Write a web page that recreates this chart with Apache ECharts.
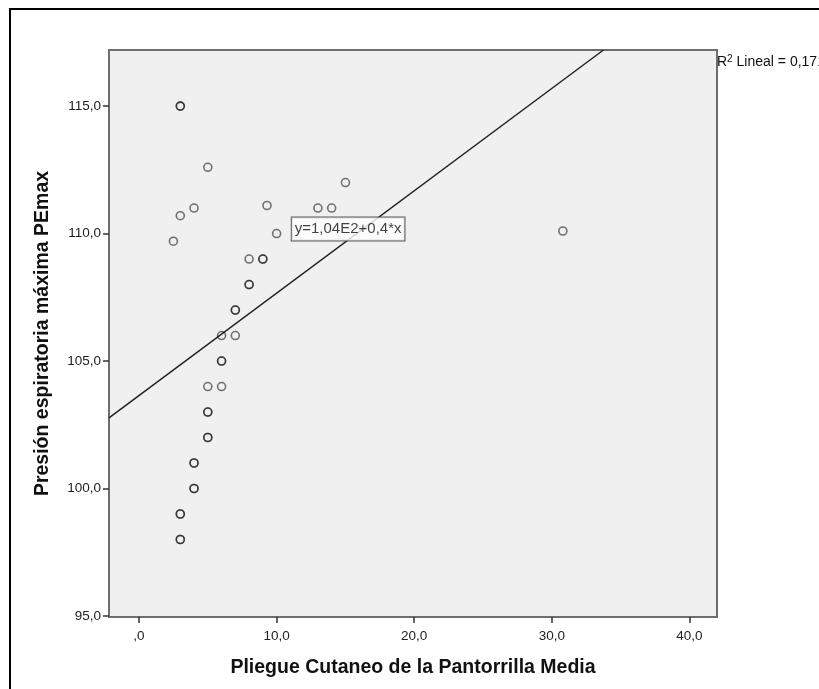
<!DOCTYPE html>
<html>
<head>
<meta charset="utf-8">
<script src="https://cdn.jsdelivr.net/npm/echarts@6/dist/echarts.min.js"></script>
<style>
html,body{margin:0;padding:0;background:#fff;}
#chart{width:819px;height:689px;}
</style>
</head>
<body>
<div id="chart"></div>
<script>
// Data
const xValues = [3, 3, 2.5, 3, 4, 5, 9.3, 10, 13, 14, 15, 8, 9, 9, 8, 8, 7, 7, 6, 7, 6, 6, 5, 6, 5, 5, 5, 5, 4, 4, 4, 4, 3, 3, 3, 3, 30.8];
const yValues = [115, 115, 109.7, 110.7, 111, 112.6, 111.1, 110, 111, 111, 112, 109, 109, 109, 108, 108, 107, 107, 106, 106, 105, 105, 104, 104, 103, 103, 102, 102, 101, 101, 100, 100, 99, 99, 98, 98, 110.1];
const fitLine = [[-2.18, 102.77], [33.75, 117.2]];
const equationText = 'y=1,04E2+0,4*x';
const equationAt = [11.1, 110.18];
const r2Text = 'Lineal = 0,171';
const xTickValues = [0, 10, 20, 30, 40];
const xTickLabels = [',0', '10,0', '20,0', '30,0', '40,0'];
const yTickValues = [95, 100, 105, 110, 115];
const yTickLabels = ['95,0', '100,0', '105,0', '110,0', '115,0'];
const xTitle = 'Pliegue Cutaneo de la Pantorrilla Media';
const yTitle = 'Presión espiratoria máxima PEmax';

const points = xValues.map((x, i) => [x, yValues[i]]);
const font = 'Liberation Sans, Arial, sans-serif';

const chart = echarts.init(document.getElementById('chart'), null, {renderer: 'canvas'});
chart.setOption({
  animation: false,
  backgroundColor: '#fff',
  grid: {
    left: 109, top: 50, right: 102, bottom: 72,
    show: true, backgroundColor: '#f0f0f0', borderColor: '#6e6e6e', borderWidth: 2
  },
  xAxis: {
    type: 'value', min: -2.18, max: 42.0,
    splitLine: {show: false},
    axisLine: {show: true, onZero: false, lineStyle: {color: '#6e6e6e', width: 2}},
    axisTick: {show: true, length: 6, lineStyle: {color: '#333', width: 1.5}, customValues: xTickValues},
    axisLabel: {
      customValues: xTickValues, color: '#222', fontFamily: font, fontSize: 13.5, margin: 12,
      formatter: v => xTickLabels[xTickValues.indexOf(v)]
    },
    name: xTitle, nameLocation: 'middle', nameGap: 41,
    nameTextStyle: {fontFamily: font, fontSize: 19.5, fontWeight: 'bold', color: '#111'}
  },
  yAxis: {
    type: 'value', min: 94.96, max: 117.2,
    splitLine: {show: false},
    axisLine: {show: true, onZero: false, lineStyle: {color: '#6e6e6e', width: 2}},
    axisTick: {show: true, length: 6, lineStyle: {color: '#333', width: 1.5}, customValues: yTickValues},
    axisLabel: {
      customValues: yTickValues, color: '#222', fontFamily: font, fontSize: 13.5, margin: 8,
      formatter: v => yTickLabels[yTickValues.indexOf(v)]
    },
    name: yTitle, nameLocation: 'middle', nameGap: 56, nameRotate: 90,
    nameTextStyle: {fontFamily: font, fontSize: 19.5, fontWeight: 'bold', color: '#111'}
  },
  series: [
    {
      type: 'line', data: fitLine, symbol: 'none', silent: true,
      lineStyle: {color: '#222', width: 1.5}, z: 2
    },
    {
      type: 'scatter', data: points, symbol: 'circle', symbolSize: 8,
      itemStyle: {color: 'rgba(0,0,0,0)', borderColor: 'rgba(10,10,10,0.7)', borderWidth: 1.6},
      z: 3
    },
    {
      type: 'scatter', data: [equationAt], symbolSize: 0, silent: true, z: 5,
      label: {
        show: true, position: 'right', distance: 0, formatter: equationText,
        fontFamily: font, fontSize: 15, color: '#111',
        backgroundColor: '#fff', borderColor: '#333', borderWidth: 1, padding: [4, 3, 4, 3]
      }
    }
  ],
  graphic: [
    {
      type: 'rect', shape: {x: 10, y: 9, width: 900, height: 800},
      style: {fill: 'none', stroke: '#000', lineWidth: 2}, silent: true
    },
    {
      type: 'text', x: 717, y: 54,
      style: {
        text: 'R{sup|2} ' + r2Text, fontFamily: font, fontSize: 14, fill: '#111',
        rich: {sup: {fontSize: 10, verticalAlign: 'top', padding: [0, 0, 6, 0], fontFamily: font, fill: '#111'}}
      }
    }
  ]
});
</script>
</body>
</html>
